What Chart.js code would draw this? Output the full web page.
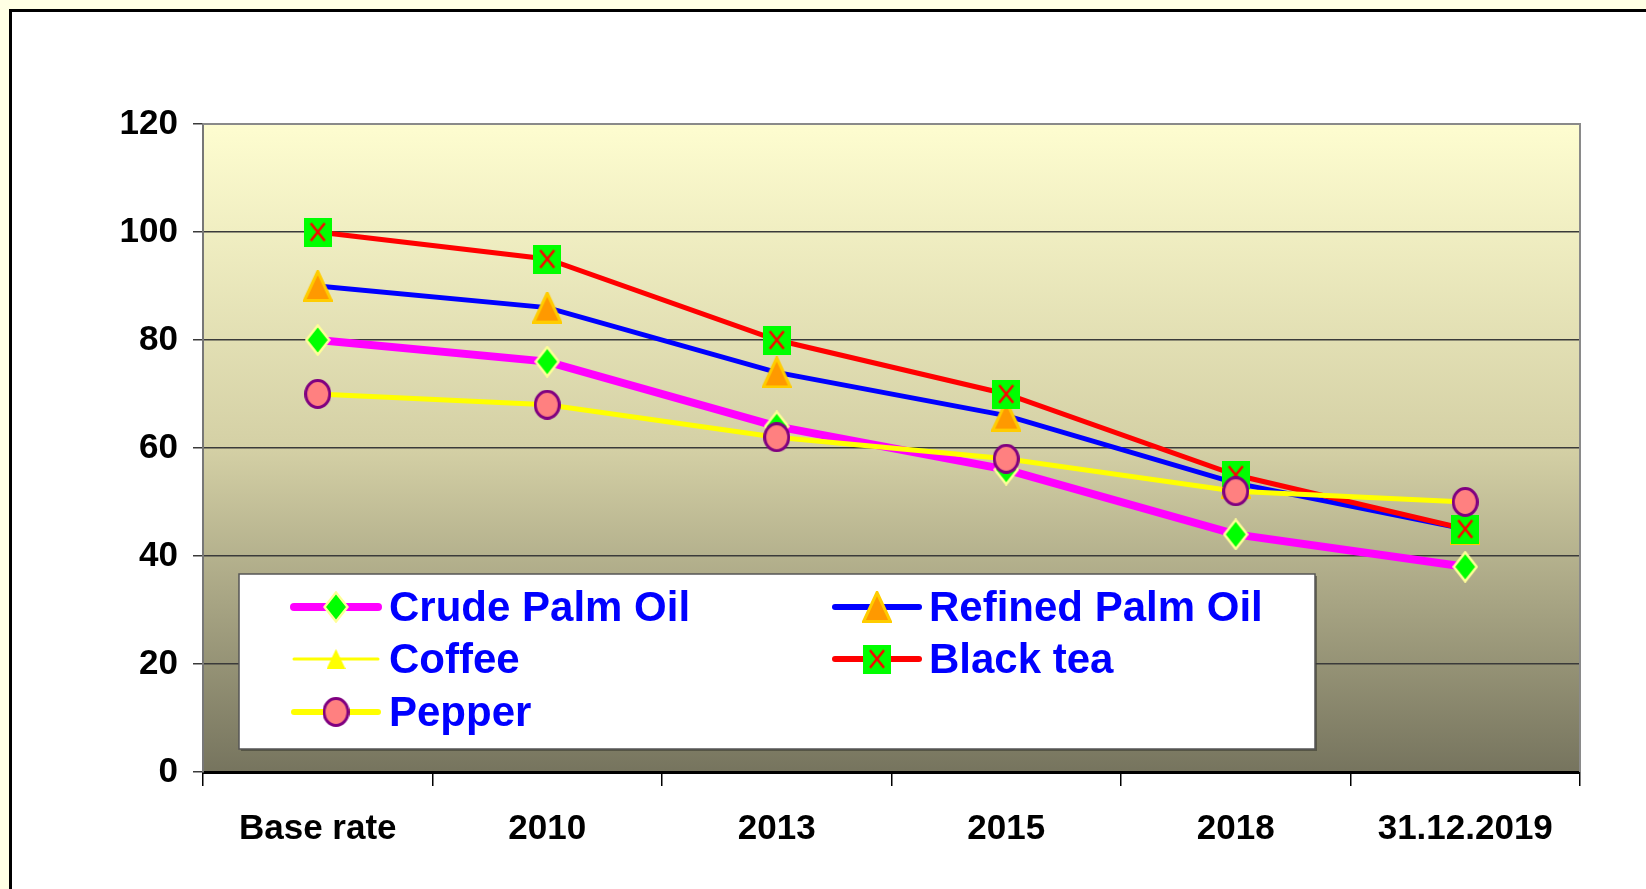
<!DOCTYPE html>
<html>
<head>
<meta charset="utf-8">
<title>Price index chart</title>
<script src="https://cdn.jsdelivr.net/npm/chart.js@4.4.1/dist/chart.umd.min.js"></script>
<style>
    html, body {
        margin: 0;
        padding: 0;
        width: 1646px;
        height: 889px;
        overflow: hidden;
        background: rgb(255, 255, 228);
    }
    #frame {
        position: absolute;
        left: 9px;
        top: 9px;
        width: 1700px;
        height: 1000px;
        border: 3px solid #000;
        background: #fff;
    }
    #chart {
        position: absolute;
        left: 0;
        top: 0;
    }
</style>
</head>
<body>
<div id="frame"></div>
<canvas id="chart" width="1646" height="889"></canvas>
<script>
// Data
const categories = ['Base rate', '2010', '2013', '2015', '2018', '31.12.2019'];
const crudePalmOil = [80, 76, 64, 56, 44, 38];
const refinedPalmOil = [90, 86, 74, 66, 53.5, 45];
const coffee = [70, 68, 62, 58, 52, 50];
const blackTea = [100, 95, 80, 70, 55, 45];
const pepper = [70, 68, 62, 58, 52, 50];
const yTicks = [0, 20, 40, 60, 80, 100, 120];

// Marker images
function makeMarker(w, h, draw) {
    const c = document.createElement('canvas');
    c.width = w;
    c.height = h;
    draw(c.getContext('2d'), w, h);
    return c;
}

function diamond(w, h) {
    return makeMarker(w, h, (ctx, w, h) => {
        ctx.beginPath();
        ctx.moveTo(w / 2, 1.5);
        ctx.lineTo(w - 1.5, h / 2);
        ctx.lineTo(w / 2, h - 1.5);
        ctx.lineTo(1.5, h / 2);
        ctx.closePath();
        ctx.fillStyle = '#00ff00';
        ctx.fill();
        ctx.lineWidth = 2.5;
        ctx.strokeStyle = '#ffff99';
        ctx.stroke();
    });
}

function triangle(w, h, fill, stroke, lw) {
    return makeMarker(w, h, (ctx, w, h) => {
        ctx.beginPath();
        ctx.moveTo(w / 2, lw / 2);
        ctx.lineTo(w - lw / 2, h - lw / 2);
        ctx.lineTo(lw / 2, h - lw / 2);
        ctx.closePath();
        ctx.fillStyle = fill;
        ctx.fill();
        if (lw > 0) {
            ctx.lineWidth = lw;
            ctx.strokeStyle = stroke;
            ctx.stroke();
        }
    });
}

function ellipse(w, h) {
    return makeMarker(w, h, (ctx, w, h) => {
        ctx.beginPath();
        ctx.ellipse(w / 2, h / 2, w / 2 - 1.5, h / 2 - 1.5, 0, 0, Math.PI * 2);
        ctx.fillStyle = '#ff8080';
        ctx.fill();
        ctx.lineWidth = 3;
        ctx.strokeStyle = '#800080';
        ctx.stroke();
    });
}

function crossBox(w, h) {
    return makeMarker(w, h, (ctx, w, h) => {
        ctx.fillStyle = '#00ff00';
        ctx.fillRect(0, 0, w, h);
        ctx.beginPath();
        ctx.moveTo(w * 0.25, h * 0.2);
        ctx.lineTo(w * 0.75, h * 0.8);
        ctx.moveTo(w * 0.75, h * 0.2);
        ctx.lineTo(w * 0.25, h * 0.8);
        ctx.lineWidth = 2.5;
        ctx.strokeStyle = '#ff0000';
        ctx.stroke();
    });
}

const markerCrude = diamond(26, 32);
const markerRefined = triangle(30, 32, '#ff9900', '#ffcc00', 3);
const markerCoffee = triangle(19, 20, '#ffff00', '#ffff00', 0);
const markerTea = crossBox(28, 29);
const markerPepper = ellipse(27, 30);

// Plot background gradient and frame
const plotBackground = {
    id: 'plotBackground',
    beforeDraw(chart) {
        const {ctx, chartArea: a} = chart;
        const g = ctx.createLinearGradient(0, a.top, 0, a.bottom);
        g.addColorStop(0, 'rgb(254, 253, 208)');
        g.addColorStop(0.5, 'rgb(212, 208, 165)');
        g.addColorStop(1, 'rgb(118, 116, 94)');
        ctx.save();
        ctx.fillStyle = g;
        ctx.fillRect(a.left, a.top, a.right - a.left, a.bottom - a.top);
        ctx.restore();
    },
    afterDraw(chart) {
        const {ctx, chartArea: a} = chart;
        ctx.save();
        ctx.strokeStyle = '#8a8a8a';
        ctx.lineWidth = 2;
        ctx.beginPath();
        ctx.moveTo(a.left, a.top);
        ctx.lineTo(a.right, a.top);
        ctx.lineTo(a.right, a.bottom);
        ctx.stroke();
        ctx.restore();
    }
};

// Legend box drawn inside the plot
const boxLegend = {
    id: 'boxLegend',
    afterDatasetsDraw(chart) {
        const ctx = chart.ctx;
        const box = {x: 239, y: 574, w: 1076, h: 175};
        ctx.save();
        ctx.fillStyle = 'rgba(60, 60, 50, 0.6)';
        ctx.fillRect(box.x + 2, box.y + 2, box.w, box.h);
        ctx.fillStyle = '#fff';
        ctx.fillRect(box.x, box.y, box.w, box.h);
        ctx.strokeStyle = '#555';
        ctx.lineWidth = 1.5;
        ctx.strokeRect(box.x, box.y, box.w, box.h);

        const cols = [{line: 294, text: 389}, {line: 835, text: 929}];
        const rows = [607, 659, 712];
        ctx.font = 'bold 42px "Liberation Sans", Arial, sans-serif';
        ctx.textBaseline = 'middle';
        chart.data.datasets.forEach((ds, i) => {
            const col = cols[i % 2];
            const y = rows[Math.floor(i / 2)];
            ctx.strokeStyle = ds.borderColor;
            ctx.lineWidth = ds.legendLineWidth;
            ctx.lineCap = 'round';
            ctx.beginPath();
            ctx.moveTo(col.line, y);
            ctx.lineTo(col.line + 84, y);
            ctx.stroke();
            const m = ds.pointStyle;
            ctx.drawImage(m, col.line + 42 - m.width / 2, y - m.height / 2);
            ctx.fillStyle = '#0000ff';
            ctx.fillText(ds.label, col.text, y + 2);
        });
        ctx.restore();
    }
};

const tickFont = {family: '"Liberation Sans", Arial, sans-serif', size: 35, weight: 'bold'};

new Chart(document.getElementById('chart'), {
    type: 'line',
    data: {
        labels: categories,
        datasets: [
            {
                label: 'Crude Palm Oil',
                data: crudePalmOil,
                borderColor: '#ff00ff',
                borderWidth: 8,
                legendLineWidth: 8,
                pointStyle: markerCrude,
                order: 4
            },
            {
                label: 'Refined Palm Oil',
                data: refinedPalmOil,
                borderColor: '#0000ff',
                borderWidth: 5,
                legendLineWidth: 6,
                pointStyle: markerRefined,
                order: 3
            },
            {
                label: 'Coffee',
                data: coffee,
                borderColor: '#ffff00',
                borderWidth: 2,
                legendLineWidth: 3,
                pointStyle: markerCoffee,
                order: 2
            },
            {
                label: 'Black tea',
                data: blackTea,
                borderColor: '#ff0000',
                borderWidth: 5,
                legendLineWidth: 6,
                pointStyle: markerTea,
                order: 1
            },
            {
                label: 'Pepper',
                data: pepper,
                borderColor: '#ffff00',
                borderWidth: 5,
                legendLineWidth: 6,
                pointStyle: markerPepper,
                order: 0
            }
        ]
    },
    options: {
        responsive: false,
        animation: false,
        layout: {
            padding: {left: 0, right: 66, top: 124, bottom: 0}
        },
        elements: {
            line: {tension: 0, fill: false},
            point: {radius: 14}
        },
        plugins: {
            legend: {display: false},
            tooltip: {enabled: false}
        },
        scales: {
            x: {
                offset: true,
                afterFit(scale) { scale.height = 117; },
                grid: {
                    offset: true,
                    drawOnChartArea: false,
                    tickLength: 14,
                    color: '#000',
                    lineWidth: 1.5
                },
                border: {color: '#000', width: 3},
                ticks: {
                    font: tickFont,
                    color: '#000',
                    padding: 22,
                    maxRotation: 0,
                    autoSkip: false
                }
            },
            y: {
                min: yTicks[0],
                max: yTicks[yTicks.length - 1],
                afterFit(scale) { scale.width = 203; },
                afterBuildTicks(scale) { scale.ticks = yTicks.map(v => ({value: v})); },
                grid: {
                    color: '#3a3a3a',
                    lineWidth: 1.5,
                    tickLength: 10
                },
                border: {color: '#777', width: 2},
                ticks: {
                    font: tickFont,
                    color: '#000',
                    padding: 15
                }
            }
        }
    },
    plugins: [plotBackground, boxLegend]
});
</script>
</body>
</html>
